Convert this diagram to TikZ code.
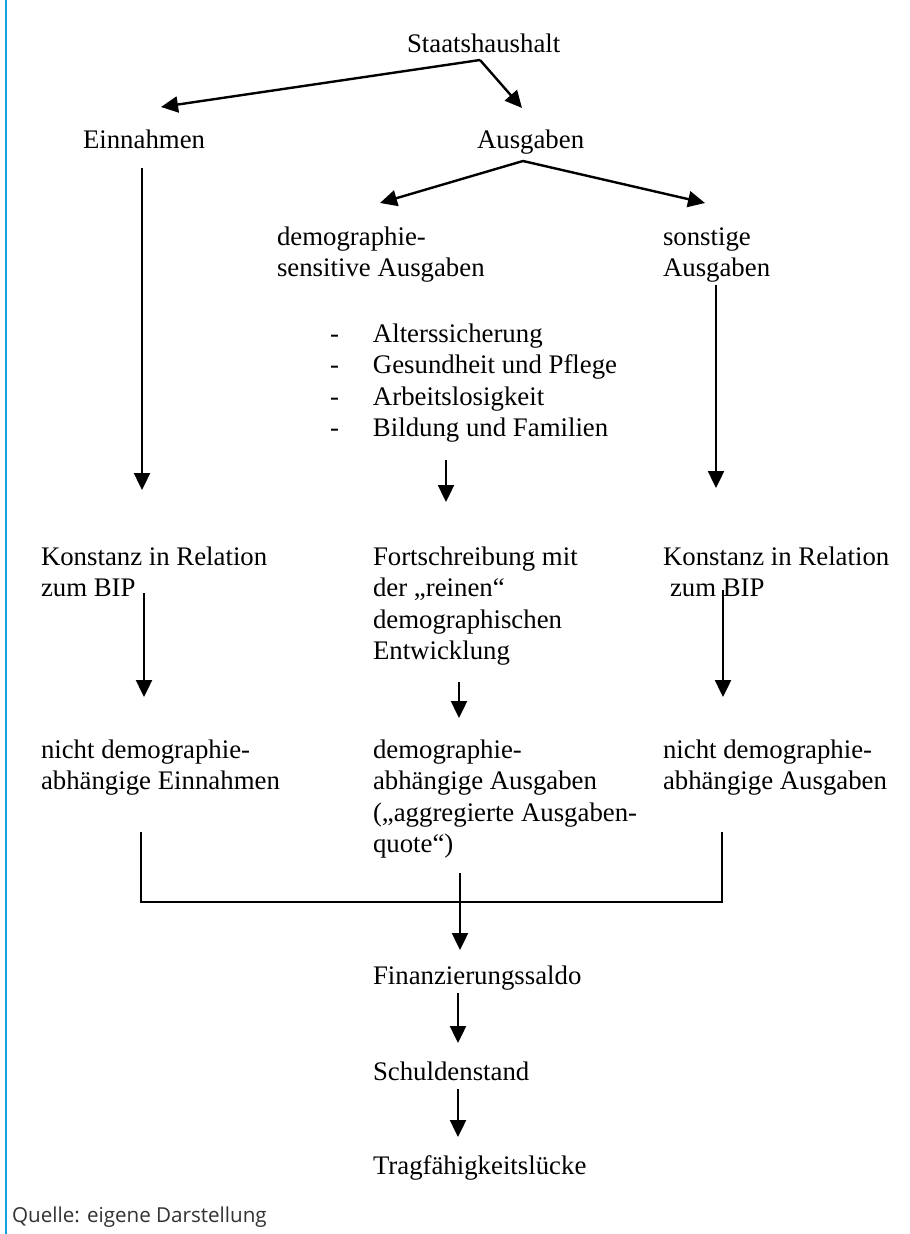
\documentclass[tikz,border=0pt]{standalone}
\usepackage{fontspec}
\setmainfont{Liberation Serif}
\newfontfamily\quellefont{Open Sans}
\usetikzlibrary{arrows.meta}
\definecolor{rulerblue}{RGB}{20,160,225}
\definecolor{quellegray}{RGB}{50,50,50}
\newcommand{\mlines}[1]{\begin{tabular}[t]{@{}l@{}}#1\end{tabular}}
\begin{document}
\begin{tikzpicture}[x=1pt,y=-1pt,
  txt/.style={anchor=base west,inner sep=0pt,outer sep=0pt,font=\fontsize{26.8}{31.6}\selectfont},
  arr/.style={line width=2.4pt,-{Triangle[length=17pt,width=16pt]}},
  ln/.style={line width=2pt}]
\useasboundingbox (0,0) rectangle (910,1234);
\fill[white] (0,0) rectangle (910,1234);
\draw[rulerblue,line width=2pt] (6,0) -- (6,1234);

% nodes
\node[txt] (sh) at (407,52) {Staatshaushalt};
\node[txt] (ein) at (83,148) {Einnahmen};
\node[txt] (aus) at (477,148) {Ausgaben};
\node[txt] (dsa) at (277,245) {\mlines{demographie-\\sensitive Ausgaben}};
\node[txt] (son) at (663,245) {\mlines{sonstige\\Ausgaben}};
\node[txt] (list) at (330,342) {\begin{tabular}[t]{@{}p{43pt}@{}l@{}}-&Alterssicherung\\-&Gesundheit und Pflege\\-&Arbeitslosigkeit\\-&Bildung und Familien\end{tabular}};
\node[txt] (kl) at (41,565) {\mlines{Konstanz in Relation\\zum BIP}};
\node[txt] (fort) at (373,565) {\mlines{Fortschreibung mit\\der „reinen“\\demographischen\\Entwicklung}};
\node[txt] (kr) at (663,565) {\mlines{Konstanz in Relation\\\hspace{7pt}zum BIP}};
\node[txt] (nde) at (41,758) {\mlines{nicht demographie-\\abhängige Einnahmen}};
\node[txt] (dab) at (373,758) {\mlines{demographie-\\abhängige Ausgaben\\(„aggregierte Ausgaben-\\quote“)}};
\node[txt] (nda) at (663,758) {\mlines{nicht demographie-\\abhängige Ausgaben}};
\node[txt] (fin) at (373,984) {Finanzierungssaldo};
\node[txt] (sch) at (373,1080) {Schuldenstand};
\node[txt] (tra) at (373,1174) {Tragfähigkeitslücke};
\node[anchor=base west,inner sep=0pt,font=\quellefont\fontsize{20.6}{24}\selectfont,text=quellegray] (quelle) at (12,1222) {Quelle: eigene Darstellung};

% connector end points
\coordinate (shfork) at (480,60);
\coordinate (einIn) at (161,107);
\coordinate (ausIn) at (522,108);
\coordinate (ausfork) at (523,161);
\coordinate (dsaIn) at (380,203);
\coordinate (sonIn) at (705,203);
\coordinate (einOut) at (142,168);
\coordinate (klIn) at (142,490);
\coordinate (listOut) at (446,460);
\coordinate (fortIn) at (446,502);
\coordinate (sonOut) at (716,285);
\coordinate (krIn) at (716,488);
\coordinate (klOut) at (144,593);
\coordinate (ndeIn) at (144,697);
\coordinate (fortOut) at (459,682);
\coordinate (dabIn) at (459,718);
\coordinate (krOut) at (723,590);
\coordinate (ndaIn) at (723,697);
\coordinate (ndeOut) at (141,832);
\coordinate (bl) at (141,902);
\coordinate (br) at (722,902);
\coordinate (ndaOut) at (722,832);
\coordinate (dabOut) at (460,873);
\coordinate (finIn) at (460,950);
\coordinate (finOut) at (458,993);
\coordinate (schIn) at (458,1043);
\coordinate (schOut) at (458,1089);
\coordinate (traIn) at (458,1137);

% connectors
\draw[arr] (shfork) -- (einIn);
\draw[arr] (shfork) -- (ausIn);
\draw[arr] (ausfork) -- (dsaIn);
\draw[arr] (ausfork) -- (sonIn);
\draw[arr] (einOut) -- (klIn);
\draw[arr] (listOut) -- (fortIn);
\draw[arr] (sonOut) -- (krIn);
\draw[arr] (klOut) -- (ndeIn);
\draw[arr] (fortOut) -- (dabIn);
\draw[arr] (krOut) -- (ndaIn);
\draw[ln] (ndeOut) -- (bl) -- (br) -- (ndaOut);
\draw[arr] (dabOut) -- (finIn);
\draw[arr] (finOut) -- (schIn);
\draw[arr] (schOut) -- (traIn);
\end{tikzpicture}
\end{document}
